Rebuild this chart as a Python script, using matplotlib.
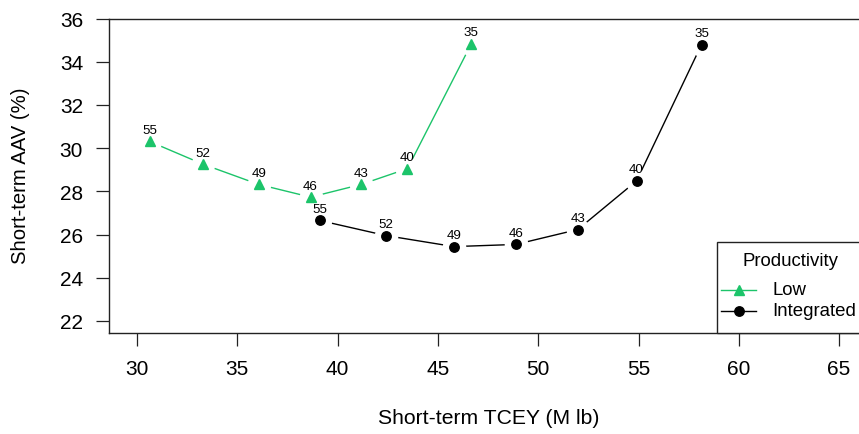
import matplotlib
matplotlib.use("Agg")
import matplotlib.pyplot as plt
from matplotlib.patches import Rectangle
from matplotlib.lines import Line2D

plt.rcParams['font.family'] = ['Liberation Sans', 'DejaVu Sans']

# Data
low_x = [30.62, 33.30, 36.06, 38.65, 41.18, 43.48, 46.67]
low_y = [30.31, 29.25, 28.32, 27.73, 28.32, 29.05, 34.84]
low_lab = ["55", "52", "49", "46", "43", "40", "35"]

int_x = [39.10, 42.41, 45.80, 48.88, 51.97, 54.90, 58.14]
int_y = [26.65, 25.95, 25.44, 25.54, 26.23, 28.48, 34.79]
int_lab = ["55", "52", "49", "46", "43", "40", "35"]

xticks = [30, 35, 40, 45, 50, 55, 60, 65]
yticks = [22, 24, 26, 28, 30, 32, 34, 36]

GREEN = '#1cc46a'
W, H = 859, 435
FS = 15.0
FS_LEG = 13.4
FS_PT = 9.6

fig = plt.figure(figsize=(W/100, H/100), dpi=100)
ax = fig.add_axes([109/W, 1 - 334/H, (868 - 109)/W, (334 - 19.5)/H])
ax.set_xlim(28.6, 66.44)
ax.set_ylim(21.44, 36.0)

def series(xs, ys, labs, color, marker, ms):
    ax.plot(xs, ys, color=color, lw=1.0, zorder=2)
    ax.plot(xs, ys, ls='none', marker='o', ms=17, mfc='white', mec='none', zorder=3)
    ax.plot(xs, ys, ls='none', marker=marker, ms=ms, mfc=color, mec=color, zorder=4)
    for x, y, t in zip(xs, ys, labs):
        ax.annotate(t, (x, y), xytext=(0, 8.3), textcoords='offset points',
                    ha='center', va='center', fontsize=FS_PT, color='black', zorder=5)

series(low_x, low_y, low_lab, GREEN, '^', 7.5)
series(int_x, int_y, int_lab, 'black', 'o', 6.8)

ax.set_xticks(xticks)
ax.set_yticks(yticks)
ax.tick_params(axis='both', length=9.5, width=0.9, labelsize=FS, color='#222222')
ax.tick_params(axis='x', pad=9)
ax.tick_params(axis='y', pad=9.2)
for s in ax.spines.values():
    s.set_linewidth(1.0)
    s.set_color('#222222')

ax.set_xlabel("Short-term TCEY (M lb)", fontsize=15.2)
ax.set_ylabel("Short-term AAV (%)", fontsize=14.6)
ax.xaxis.set_label_coords(489/W, 1 - 419/H, transform=fig.transFigure)
ax.yaxis.set_label_coords(21/W, 1 - 176/H, transform=fig.transFigure)
ax.xaxis.label.set_va('center')
ax.yaxis.label.set_va('center')

# Legend (drawn manually in figure pixel coordinates)
def fx(px):
    return px / W
def fy(py):
    return 1 - py / H

ft = fig.transFigure
fig.patches.append(Rectangle((fx(716.7), fy(334)), fx(868) - fx(716.7), fy(243) - fy(334),
                             transform=ft, fill=True, facecolor='white',
                             edgecolor='#222222', lw=1.0, zorder=10))
fig.text(fx(790), fy(261.5), "Productivity", ha='center', va='center', fontsize=FS_LEG, zorder=11)
leg_items = [("Low", GREEN, '^', 7.5, 290.5), ("Integrated", 'black', 'o', 6.8, 312)]
for name, c, m, ms, py in leg_items:
    fig.lines.append(Line2D([fx(720.5), fx(756)], [fy(py), fy(py)], transform=ft,
                            color=c, lw=1.0, zorder=11))
    fig.lines.append(Line2D([fx(738.5)], [fy(py)], transform=ft, ls='none',
                            marker=m, ms=ms, mfc=c, mec=c, zorder=12))
    fig.text(fx(772.5), fy(py), name, ha='left', va='center', fontsize=FS_LEG, zorder=11)

fig.savefig("out.png", dpi=100)
